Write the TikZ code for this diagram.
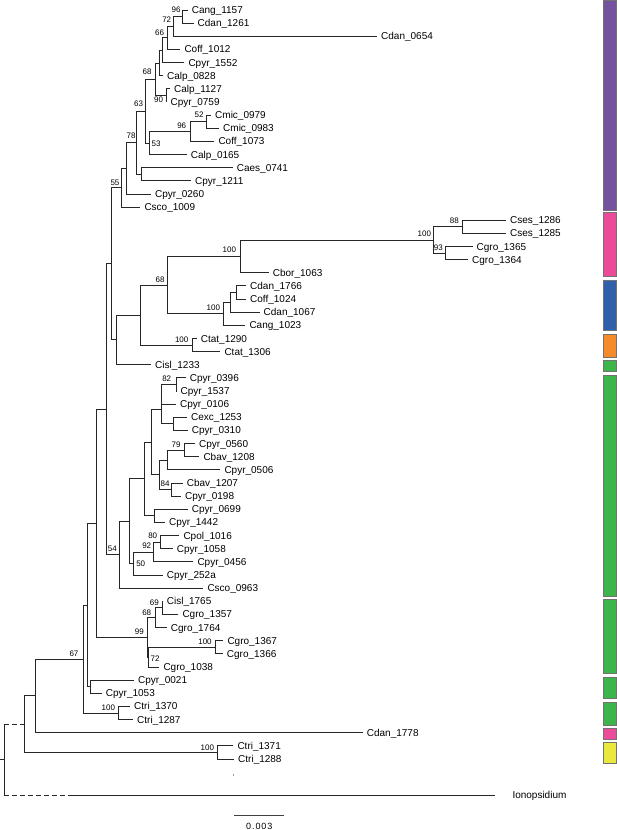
\documentclass[tikz,border=0pt]{standalone}
\usepackage{fontspec}
\setmainfont{Liberation Sans}
\newfontfamily\sbfont[LetterSpace=10]{Liberation Sans}
\usetikzlibrary{calc}
\definecolor{cpurple}{HTML}{7552A0}
\definecolor{cpink}{HTML}{EB4B98}
\definecolor{cblue}{HTML}{3160AA}
\definecolor{corange}{HTML}{F68B2C}
\definecolor{cgreen}{HTML}{3CB54A}
\definecolor{cyellow}{HTML}{EBE83D}
\tikzset{
  branch/.style={draw=black!85, line width=0.9pt},
  leaf/.style={anchor=west, inner xsep=4pt, inner ysep=0pt, font=\fontsize{10}{12}\selectfont, text height=7pt, text depth=0pt},
  boot/.style={inner sep=0pt, font=\fontsize{8}{9}\selectfont, text height=5.7pt, text depth=0pt},
  cbar/.style={draw=black!55, line width=0.5pt},
}
\newcommand\leaf[4]{\node[leaf] (#1) at ({#2-4}, {10+13.14*#3}) {#4};}
\newcommand\inode[4]{%
  \path let \p1=(#3), \p2=(#4) in (#2pt, {0.5*\y1+0.5*\y2}) coordinate (#1);
  \draw[branch] (#1) |- (#3);
  \draw[branch] (#1) |- (#4);}
\begin{document}
\begin{tikzpicture}[x=1pt,y=-1pt]
\useasboundingbox (0,0) rectangle (617,830);
% ---------- leaves ----------
\leaf{cang1157}{191.7}{0}{Cang\_1157}
\leaf{cdan1261}{197.5}{1}{Cdan\_1261}
\leaf{cdan0654}{381}{2}{Cdan\_0654}
\leaf{coff1012}{184.3}{3}{Coff\_1012}
\leaf{cpyr1552}{188.3}{4}{Cpyr\_1552}
\leaf{calp0828}{167}{5}{Calp\_0828}
\leaf{calp1127}{174}{6}{Calp\_1127}
\leaf{cpyr0759}{170.5}{7}{Cpyr\_0759}
\leaf{cmic0979}{215}{8}{Cmic\_0979}
\leaf{cmic0983}{223}{9}{Cmic\_0983}
\leaf{coff1073}{218.3}{10}{Coff\_1073}
\leaf{calp0165}{190.7}{11}{Calp\_0165}
\leaf{caes0741}{236.7}{12}{Caes\_0741}
\leaf{cpyr1211}{195}{13}{Cpyr\_1211}
\leaf{cpyr0260}{155}{14}{Cpyr\_0260}
\leaf{csco1009}{144.3}{15}{Csco\_1009}
\leaf{cses1286}{510}{16}{Cses\_1286}
\leaf{cses1285}{510}{17}{Cses\_1285}
\leaf{cgro1365}{476.5}{18}{Cgro\_1365}
\leaf{cgro1364}{472}{19}{Cgro\_1364}
\leaf{cbor1063}{272.7}{20}{Cbor\_1063}
\leaf{cdan1766}{250}{21}{Cdan\_1766}
\leaf{coff1024}{250}{22}{Coff\_1024}
\leaf{cdan1067}{263.5}{23}{Cdan\_1067}
\leaf{cang1023}{249.3}{24}{Cang\_1023}
\leaf{ctat1290}{200.7}{25}{Ctat\_1290}
\leaf{ctat1306}{224.3}{26}{Ctat\_1306}
\leaf{cisl1233}{155}{27}{Cisl\_1233}
\leaf{cpyr0396}{189.7}{28}{Cpyr\_0396}
\leaf{cpyr1537}{180.5}{29}{Cpyr\_1537}
\leaf{cpyr0106}{180}{30}{Cpyr\_0106}
\leaf{cexc1253}{191}{31}{Cexc\_1253}
\leaf{cpyr0310}{191.7}{32}{Cpyr\_0310}
\leaf{cpyr0560}{199}{33}{Cpyr\_0560}
\leaf{cbav1208}{203.3}{34}{Cbav\_1208}
\leaf{cpyr0506}{224.3}{35}{Cpyr\_0506}
\leaf{cbav1207}{186.7}{36}{Cbav\_1207}
\leaf{cpyr0198}{185}{37}{Cpyr\_0198}
\leaf{cpyr0699}{191.7}{38}{Cpyr\_0699}
\leaf{cpyr1442}{169}{39}{Cpyr\_1442}
\leaf{cpol1016}{183.3}{40}{Cpol\_1016}
\leaf{cpyr1058}{176.7}{41}{Cpyr\_1058}
\leaf{cpyr0456}{197.3}{42}{Cpyr\_0456}
\leaf{cpyr252a}{166.7}{43}{Cpyr\_252a}
\leaf{csco0963}{207.3}{44}{Csco\_0963}
\leaf{cisl1765}{166.7}{45}{Cisl\_1765}
\leaf{cgro1357}{182.3}{46}{Cgro\_1357}
\leaf{cgro1764}{170.7}{47}{Cgro\_1764}
\leaf{cgro1367}{227.3}{48}{Cgro\_1367}
\leaf{cgro1366}{226.7}{49}{Cgro\_1366}
\leaf{cgro1038}{163.3}{50}{Cgro\_1038}
\leaf{cpyr0021}{138}{51}{Cpyr\_0021}
\leaf{cpyr1053}{105.7}{52}{Cpyr\_1053}
\leaf{ctri1370}{134}{53}{Ctri\_1370}
\leaf{ctri1287}{137}{54}{Ctri\_1287}
\leaf{cdan1778}{366.7}{55}{Cdan\_1778}
\leaf{ctri1371}{237.3}{56}{Ctri\_1371}
\leaf{ctri1288}{238}{57}{Ctri\_1288}
\coordinate (ionotip) at (495,795);
\coordinate (ionomid) at (70,795);
\node[leaf] (iono) at (508.3,795) {Ionopsidium};
% ---------- purple clade ----------
\inode{n96a}{182.7}{cang1157}{cdan1261}
\inode{n72a}{173.3}{n96a}{cdan0654}
\inode{n66}{167.3}{n72a}{coff1012}
\inode{np1}{162.7}{n66}{cpyr1552}
\inode{np2}{159.3}{np1}{calp0828}
\inode{n90}{166.5}{calp1127}{cpyr0759}
\inode{n68a}{155}{np2}{n90}
\inode{n52}{206}{cmic0979}{cmic0983}
\inode{n96b}{190}{n52}{coff1073}
\inode{n53}{149}{n96b}{calp0165}
\inode{n63}{145}{n68a}{n53}
\inode{np3}{141}{caes0741}{cpyr1211}
\inode{n78}{136.7}{n63}{np3}
\inode{np4}{126}{n78}{cpyr0260}
\inode{n55}{121.7}{np4}{csco1009}
% ---------- pink / blue / orange ----------
\inode{n88}{462.7}{cses1286}{cses1285}
\inode{n93}{445}{cgro1365}{cgro1364}
\inode{n100c}{433.3}{n88}{n93}
\inode{n100a}{240}{n100c}{cbor1063}
\inode{ndc}{236}{cdan1766}{coff1024}
\inode{nb1}{230.7}{ndc}{cdan1067}
\inode{n100b}{223.3}{nb1}{cang1023}
\inode{n68b}{167.3}{n100a}{n100b}
\inode{ntat}{192}{ctat1290}{ctat1306}
\inode{nc}{140.7}{n68b}{ntat}
\inode{nb}{116}{nc}{cisl1233}
\inode{ntop}{111}{n55}{nb}
% ---------- green ----------
\inode{n82}{176}{cpyr0396}{cpyr1537}
\inode{ng1}{161.7}{n82}{cpyr0106}
\inode{ncexc}{173.3}{cexc1253}{cpyr0310}
\inode{ng2}{161.7}{ng1}{ncexc}
\inode{n79}{184}{cpyr0560}{cbav1208}
\inode{ng3}{167.3}{n79}{cpyr0506}
\inode{n84}{171.7}{cbav1207}{cpyr0198}
\inode{ngc}{159}{ng3}{n84}
\inode{nga}{151.3}{ng2}{ngc}
\inode{ng699}{154}{cpyr0699}{cpyr1442}
\inode{ng4}{144}{nga}{ng699}
\inode{n80}{160}{cpol1016}{cpyr1058}
\inode{n92}{153.3}{n80}{cpyr0456}
\inode{n50}{133.3}{n92}{cpyr252a}
\inode{ng5}{129.3}{ng4}{n50}
\inode{n54}{119.3}{ng5}{csco0963}
\inode{n69}{162.3}{cisl1765}{cgro1357}
\inode{n68c}{155}{n69}{cgro1764}
\inode{n100d}{215}{cgro1367}{cgro1366}
\inode{n72c}{148}{n100d}{cgro1038}
\inode{n99}{147.7}{n68c}{n72c}
\inode{ng6}{106.7}{ntop}{n54}
\inode{ng7}{96.7}{ng6}{n99}
\inode{n90b}{90}{cpyr0021}{cpyr1053}
\inode{ng8}{87.3}{ng7}{n90b}
\inode{n100e}{118.3}{ctri1370}{ctri1287}
\inode{n67}{83.3}{ng8}{n100e}
\inode{nr1}{35}{n67}{cdan1778}
\inode{n100f}{217.3}{ctri1371}{ctri1288}
\inode{nr2}{24}{nr1}{n100f}
% ---------- root ----------
\path let \p1=(nr2), \p2=(ionotip) in (4pt, {0.5*\y1+0.5*\y2}) coordinate (root);
\coordinate (rootstub) at ($(root)+(-4,0)$);
\draw[branch] (rootstub) -- (root);
\draw[branch] (root) -- (root |- nr2);
\draw[branch, dash pattern=on 5pt off 3pt] (root |- nr2) -- (nr2);
\draw[branch] (root) -- (root |- ionomid);
\draw[branch, dash pattern=on 5pt off 3pt] (root |- ionomid) -- (ionomid);
\draw[branch] (ionomid) -- (ionotip);
\node[fill=black!40, inner sep=0pt, minimum width=0.8pt, minimum height=1.2pt] (speck) at (233.3,775) {};
% ---------- bootstrap values ----------
\node[boot] (b1) at (176,9.5) {96};
\node[boot] (b2) at (166.7,19.5) {72};
\node[boot] (b3) at (159.5,32.5) {66};
\node[boot] (b4) at (147,72) {68};
\node[boot] (b5) at (158.5,100) {90};
\node[boot] (b6) at (138.5,104) {63};
\node[boot] (b7) at (199,115) {52};
\node[boot] (b8) at (181.7,126) {96};
\node[boot] (b9) at (156,143.5) {53};
\node[boot] (b10) at (131,136) {78};
\node[boot] (b11) at (115,182.5) {55};
\node[boot] (b12) at (229.3,250) {100};
\node[boot] (b13) at (424.3,233.3) {100};
\node[boot] (b14) at (454.3,220.7) {88};
\node[boot] (b15) at (438.3,247.7) {93};
\node[boot] (b16) at (160,280) {68};
\node[boot] (b17) at (213.3,307.3) {100};
\node[boot] (b18) at (181.7,339.3) {100};
\node[boot] (b19) at (166.7,378.3) {82};
\node[boot] (b20) at (176,444.3) {79};
\node[boot] (b21) at (165,484) {84};
\node[boot] (b22) at (152.7,535.7) {80};
\node[boot] (b23) at (146.7,546) {92};
\node[boot] (b24) at (140.7,564) {50};
\node[boot] (b25) at (112.3,549) {54};
\node[boot] (b26) at (154.3,602.3) {69};
\node[boot] (b27) at (146.7,612.3) {68};
\node[boot] (b28) at (139.3,631.7) {99};
\node[boot] (b29) at (205,641.7) {100};
\node[boot] (b30) at (155,659) {72};
\node[boot] (b31) at (74,653.3) {67};
\node[boot] (b32) at (108.3,707.7) {100};
\node[boot] (b33) at (207.3,747.3) {100};
% ---------- scale bar ----------
\coordinate (sbl) at (234.3,815.7);
\coordinate (sbr) at (284.3,815.7);
\draw[line width=1.2pt, black!75] (sbl) -- (sbr);
\node[inner sep=0pt, font=\sbfont\fontsize{9}{10}\selectfont] (sblab) at (259.3,826.5) {0.003};
% ---------- colour bars ----------
\draw[cbar, fill=cpurple] (603.5,0.5) rectangle (616.5,210.7);
\draw[cbar, fill=cpink]   (603.5,212.7) rectangle (616.5,276);
\draw[cbar, fill=cblue]   (603.5,280) rectangle (616.5,330.7);
\draw[cbar, fill=corange] (603.5,334) rectangle (616.5,357);
\draw[cbar, fill=cgreen]  (603.5,360) rectangle (616.5,371.7);
\draw[cbar, fill=cgreen]  (603.5,375) rectangle (616.5,596);
\draw[cbar, fill=cgreen]  (603.5,599) rectangle (616.5,673);
\draw[cbar, fill=cgreen]  (603.5,677) rectangle (616.5,698);
\draw[cbar, fill=cgreen]  (603.5,702) rectangle (616.5,725);
\draw[cbar, fill=cpink]   (603.5,728) rectangle (616.5,739);
\draw[cbar, fill=cyellow] (603.5,742) rectangle (616.5,763);
\end{tikzpicture}
\end{document}
